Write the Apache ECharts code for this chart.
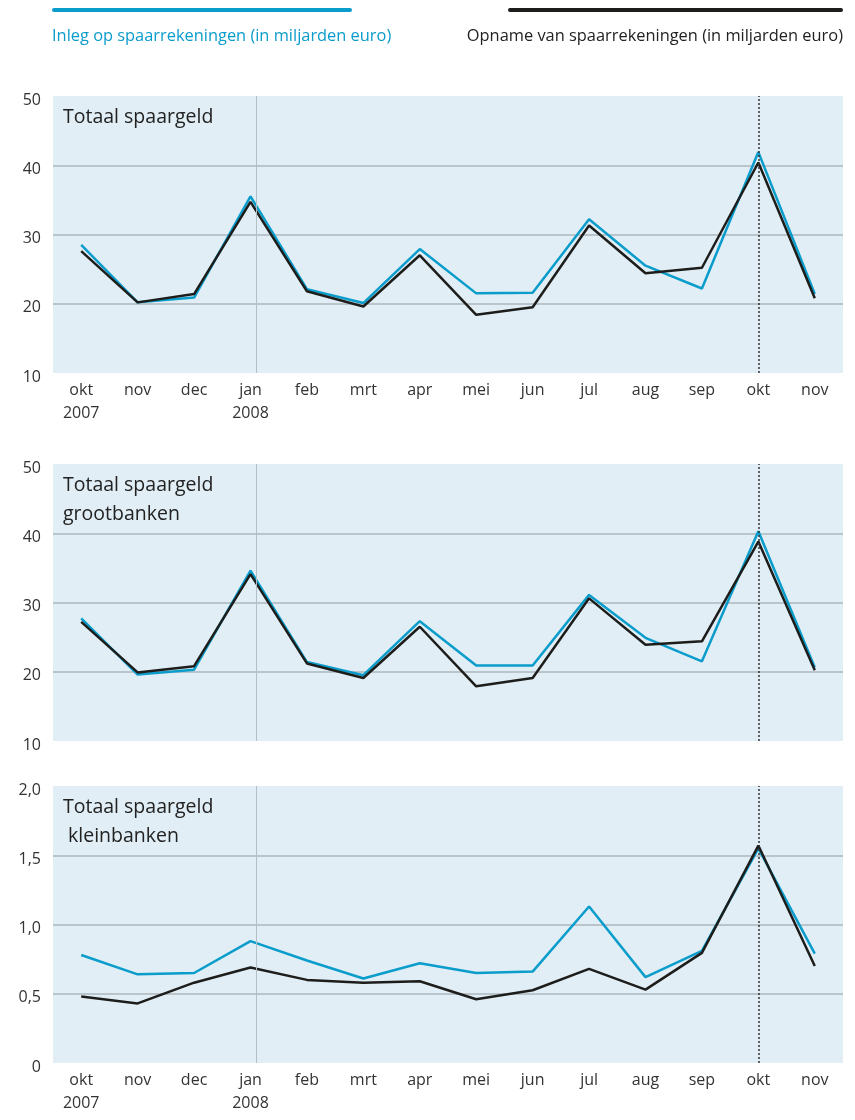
<!DOCTYPE html>
<html>
<head>
<meta charset="utf-8">
<script src="https://cdn.jsdelivr.net/npm/echarts@6/dist/echarts.min.js"></script>
<style>
html,body{margin:0;padding:0;background:#fff;}
#c{width:855px;height:1120px;}
</style>
</head>
<body>
<div id="c"></div>
<script>
// ---- data ----
const categories = ['okt\n2007','nov','dec','jan\n2008','feb','mrt','apr','mei','jun','jul','aug','sep','okt','nov'];
const totaalInleg   = [28.5,20.2,20.9,35.5,22.1,20.1,27.9,21.5,21.6,32.2,25.5,22.2,41.9,21.4];
const totaalOpname  = [27.6,20.2,21.4,34.7,21.8,19.6,27.0,18.4,19.5,31.3,24.4,25.2,40.4,20.8];
const grootInleg    = [27.7,19.6,20.3,34.6,21.4,19.5,27.3,20.9,20.9,31.1,24.9,21.5,40.3,20.6];
const grootOpname   = [27.2,19.9,20.8,34.1,21.2,19.1,26.5,17.9,19.1,30.6,23.9,24.4,38.8,20.2];
const kleinInleg    = [0.78,0.64,0.65,0.88,0.74,0.61,0.72,0.65,0.66,1.13,0.62,0.81,1.55,0.79];
const kleinOpname   = [0.48,0.43,0.58,0.69,0.60,0.58,0.59,0.46,0.525,0.68,0.53,0.795,1.57,0.70];
const panelTitles   = ['Totaal spaargeld','Totaal spaargeld\ngrootbanken','Totaal spaargeld\n kleinbanken'];
const legendNames   = ['Inleg op spaarrekeningen (in miljarden euro)','Opname van spaarrekeningen (in miljarden euro)'];
const yearMarkPos   = 3.11;   // year separator near 'jan' (position in category units)
const currentIndex  = 12;     // dotted line at okt 2008

const CYAN = '#0a9ccb', BLACK = '#1d1d1b', BG = '#e1eef5', GRIDC = '#abb6bd';
const FONT = 'Open Sans';

const chart = echarts.init(document.getElementById('c'));

const grids = [
  {left:53, right:12, top:96,  height:277},
  {left:53, right:12, top:464, height:277},
  {left:53, right:12, top:786, height:277}
].map(g => Object.assign({show:true, backgroundColor:BG, borderWidth:0}, g));

function xAxisFor(i, showLabels){
  return {
    type:'category', gridIndex:i, data:categories, boundaryGap:true,
    axisLine:{show:false}, axisTick:{show:false}, splitLine:{show:false},
    axisLabel:{show:showLabels, color:'#333', fontFamily:FONT, fontSize:16, margin:6, lineHeight:23, interval:0}
  };
}
function xValueAxisFor(i){
  return {
    type:'value', gridIndex:i, min:-0.5, max:categories.length - 0.5, show:false
  };
}
function yAxisFor(i, min, max, interval, fmt){
  return {
    type:'value', gridIndex:i, min, max, interval,
    axisLine:{show:false}, axisTick:{show:false},
    splitLine:{show:true, showMinLine:false, showMaxLine:false, lineStyle:{color:GRIDC, width:1.5}},
    axisLabel:{color:'#333', fontFamily:FONT, fontSize:16, margin:12, verticalAlign:'top', lineHeight:8, formatter:fmt}
  };
}
const fmtInt = v => String(v);
const fmtDec = v => v === 0 ? '0' : v.toFixed(1).replace('.', ',');

function seriesFor(i, inleg, opname){
  return [
    {type:'line', xAxisIndex:i + 3, yAxisIndex:i, data:[], symbol:'none', z:2,
     markLine:{silent:true, symbol:'none', label:{show:false},
       data:[{xAxis:yearMarkPos, lineStyle:{color:'#b3bfc6', width:1, type:'solid'}}]}},
    {type:'line', xAxisIndex:i, yAxisIndex:i, data:inleg, symbol:'none',
     lineStyle:{color:CYAN, width:2.5}, z:3},
    {type:'line', xAxisIndex:i, yAxisIndex:i, data:opname, symbol:'none',
     lineStyle:{color:BLACK, width:2.5}, z:4,
     markLine:{silent:true, symbol:'none', label:{show:false},
       data:[{xAxis:currentIndex, lineStyle:{color:'#333', width:1.5, type:[2,2]}}]}}
  ];
}

const option = {
  animation:false,
  backgroundColor:'#fff',
  textStyle:{fontFamily:FONT},
  grid:grids,
  xAxis:[xAxisFor(0,true), xAxisFor(1,false), xAxisFor(2,true), xValueAxisFor(0), xValueAxisFor(1), xValueAxisFor(2)],
  yAxis:[yAxisFor(0,10,50,10,fmtInt), yAxisFor(1,10,50,10,fmtInt), yAxisFor(2,0,2,0.5,fmtDec)],
  series:[].concat(seriesFor(0,totaalInleg,totaalOpname), seriesFor(1,grootInleg,grootOpname), seriesFor(2,kleinInleg,kleinOpname)),
  title:[
    {text:panelTitles[0], left:63, top:103},
    {text:panelTitles[1], left:63, top:471},
    {text:panelTitles[2], left:63, top:793}
  ].map(t => Object.assign({textStyle:{fontFamily:FONT, fontSize:19.5, fontWeight:'normal', color:'#222', lineHeight:29}, padding:0}, t)),
  graphic:[
    {type:'rect', left:52, top:8, shape:{width:300, height:4, r:2}, style:{fill:CYAN}},
    {type:'rect', left:508, top:8, shape:{width:335, height:4, r:2}, style:{fill:BLACK}},
    {type:'text', left:52, top:28, style:{text:legendNames[0], fill:CYAN, font:'16.4px "Open Sans"'}},
    {type:'text', right:12, top:28, style:{text:legendNames[1], fill:'#222', font:'16.4px "Open Sans"'}}
  ]
};
chart.setOption(option);
</script>
</body>
</html>
